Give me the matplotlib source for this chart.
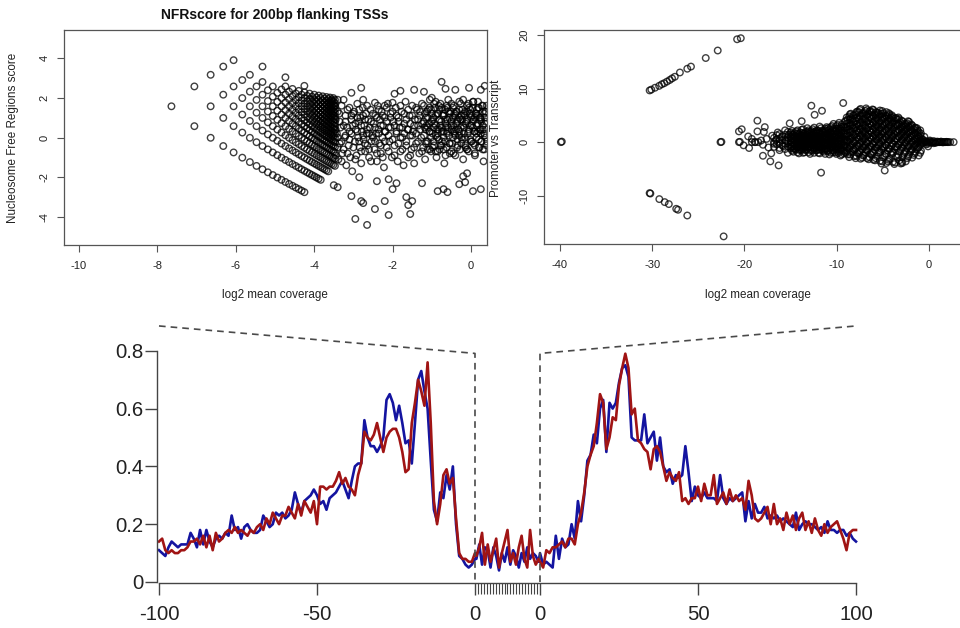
import numpy as np
import matplotlib
matplotlib.use("Agg")
import matplotlib.pyplot as plt

plt.rcParams['font.family'] = ['Liberation Sans', 'DejaVu Sans']
plt.rcParams['axes.unicode_minus'] = False

# ---------------- top left: NFR score vs log2 mean coverage ----------------
# low-coverage columns: total read count, and range of upstream counts seen
nfr_total = [2, 3, 4, 5, 6, 7, 8, 9, 10, 11, 12, 13, 14, 15, 16, 17, 18, 19, 20, 21,
             22, 23, 24, 25, 26, 27, 28, 29, 30, 31, 32, 33, 34, 35, 36]
nfr_a_lo = [1] * 20 + [2] * 7 + [3] * 4 + [4] * 4
nfr_a_hi = [1, 2, 3, 4, 5, 5, 6, 6, 8, 7, 8, 8, 9, 11, 10, 11, 11, 12, 12, 13,
            13, 14, 14, 15, 15, 16, 16, 17, 17, 18, 18, 19, 19, 20, 20]
nfr_xoff = -8.64   # log2 normalisation of coverage
nfr_yoff = 1.57    # log2 normalisation of score

# higher coverage cloud
nfr_x = [-3.48, -3.45, -3.42, -3.40, -3.38, -3.36, -3.33, -3.30, -3.28, -3.25, -3.22, -3.20, -3.18, -3.15, -3.12, -3.10, -3.08, -3.05, -3.03, -3.02,
         -2.98, -2.96, -2.94, -2.92, -2.90, -2.88, -2.86, -2.84, -2.82, -2.80, -2.78, -2.76, -2.74, -2.72, -2.70, -2.68, -2.66, -2.64, -2.62, -2.60, -2.58, -2.56, -2.54, -2.52,
         -2.48, -2.46, -2.44, -2.42, -2.40, -2.38, -2.36, -2.34, -2.32, -2.30, -2.28, -2.26, -2.24, -2.22, -2.20, -2.18, -2.15, -2.12, -2.10, -2.08, -2.05, -2.02,
         -1.98, -1.95, -1.92, -1.90, -1.87, -1.85, -1.82, -1.80, -1.77, -1.75, -1.72, -1.70, -1.67, -1.65, -1.62, -1.60, -1.57, -1.55, -1.52, -1.50,
         -1.48, -1.45, -1.43, -1.40, -1.38, -1.35, -1.32, -1.30, -1.27, -1.25, -1.22, -1.20, -1.17, -1.15, -1.12, -1.10, -1.07, -1.05, -1.02,
         -0.98, -0.96, -0.94, -0.92, -0.90, -0.88, -0.86, -0.84, -0.82, -0.80, -0.78, -0.76, -0.74, -0.72, -0.70, -0.68, -0.66, -0.64, -0.62, -0.60, -0.58, -0.56, -0.54, -0.52, -0.50,
         -0.48, -0.46, -0.44, -0.42, -0.40, -0.38, -0.36, -0.34, -0.32, -0.30, -0.28, -0.26, -0.24, -0.22, -0.20, -0.18, -0.16, -0.14, -0.12, -0.10, -0.08, -0.06, -0.04, -0.02,
         0.02, 0.04, 0.06, 0.08, 0.10, 0.12, 0.14, 0.16, 0.18, 0.20, 0.22, 0.24, 0.26, 0.28, 0.30, 0.32, 0.34, 0.36, 0.38, 0.40, 0.05, 0.15, 0.25, 0.35]
nfr_y = [1.6, 0.9, 0.2, -0.5, -1.1, 1.2, 0.5, -0.2, -0.8, 1.9, 0.0, 0.8, -1.4, 1.4, -0.4, 0.3, -1.0, 1.1, -1.7, 0.6,
         1.3, -0.2, 0.4, -0.9, 1.7, 0.0, 0.8, -0.5, 1.0, -1.3, 0.3, 1.5, -0.1, 0.6, -0.7, 1.2, 0.2, -0.4, 0.9, -1.0, 0.5, 1.4, -0.2, 0.1,
         0.7, -0.6, 1.1, 0.2, -1.2, 1.6, 0.4, -0.3, 0.9, -0.8, 1.3, 0.0, 0.6, -1.5, 1.0, 0.3, -0.5, 1.7, 0.5, -0.2, 1.2, -1.0,
         0.8, -0.4, 1.5, 0.2, -1.2, 1.0, 0.5, -0.7, 1.3, 0.0, -1.4, 0.7, 1.8, -0.2, 0.4, -1.0, 1.1, 0.1, -0.6, 1.6,
         0.3, -1.3, 0.9, -0.3, 1.4, 0.6, -0.8, 1.1, 0.0, 1.7, -0.5, 0.8, -1.1, 0.4, 1.3, -0.2, 0.7, 1.9, -0.7,
         0.2, 1.0, -0.4, 1.5, 0.6, -1.0, 0.0, 1.2, 0.4, -0.6, 1.7, 0.8, -0.2, 1.1, 0.3, -1.3, 1.4, 0.5, -0.5, 0.9, 1.9, 0.1, -0.8, 1.3, 0.6,
         -0.3, 1.0, 1.6, 0.2, -0.9, 0.7, 1.3, -0.1, 0.4, 1.8, -0.6, 0.9, 0.0, 1.4, -1.1, 0.5, 1.1, -0.4, 0.8, 1.6, 0.2, -0.7, 1.2, 0.6,
         -0.2, 1.5, 0.9, 0.3, -0.9, 1.2, 0.0, 0.7, 1.8, -0.5, 0.4, 1.0, -0.2, 1.6, 0.6, -1.2, 0.2, 1.3, 0.8, -0.4, 0.5, 1.4, 0.2, 1.0]

# second pass over the dense core: two points per coverage value
nfr2_x = [-3.45, -3.40, -3.35, -3.30, -3.25, -3.20, -3.15, -3.10, -3.05, -3.00, -2.95, -2.90, -2.85, -2.80, -2.75, -2.70,
          -2.65, -2.60, -2.55, -2.50, -2.45, -2.40, -2.35, -2.30, -2.25, -2.20, -2.15, -2.10, -2.05, -2.00, -1.95, -1.90,
          -1.85, -1.80, -1.75, -1.70, -1.65, -1.60, -1.55, -1.50, -1.45, -1.40, -1.35, -1.30, -1.25, -1.20, -1.15, -1.10,
          -1.05, -1.00, -0.95, -0.90, -0.85, -0.80, -0.75, -0.70, -0.65, -0.60, -0.55, -0.50, -0.45, -0.40, -0.35, -0.30,
          -0.25, -0.20, -0.15, -0.10, -0.05, 0.00, 0.05, 0.10, 0.15, 0.20, 0.25, 0.30, 0.35, 0.40]
nfr2_ya = [0.4, 1.3, -0.3, 1.6, 0.6, 1.1, -0.8, 1.5, 0.2, -0.5, 0.7, 0.3, -0.2, 0.6, 1.1, -0.3,
           0.4, -0.6, 0.8, 1.2, -0.2, 1.0, 0.2, -0.4, 1.1, 0.3, 0.8, -0.7, 0.5, -0.1, 0.6, 1.1,
           -0.3, 0.0, 0.5, 1.2, -0.4, 0.4, -0.9, 0.1, 0.6, 1.5, -0.2, 0.4, -0.7, 0.1, 1.0, 0.5,
           -0.6, 0.8, -0.2, 1.1, 0.2, 0.9, -0.4, 1.2, 0.7, 1.5, -0.3, 0.4, -0.8, 1.2, 0.8, 1.4,
           -0.3, 0.6, 0.0, 0.9, 0.4, -0.2, 0.8, 0.3, 1.1, -0.1, 0.9, 1.3, 0.1, 1.6]
nfr2_yb = [-0.9, 0.0, 0.8, -1.2, -0.6, 0.1, 0.5, -0.1, 0.9, 1.2, -1.1, 1.0, 1.4, -0.7, 0.1, 0.9,
           1.6, 0.2, -1.2, 0.0, 0.5, -0.8, 1.4, 0.6, -1.0, -0.2, 1.5, 0.1, 1.0, 1.3, -0.9, 0.3,
           0.8, 1.6, -0.6, 0.2, 0.9, 1.4, 0.7, 1.1, -0.5, 0.2, 0.9, 1.3, 0.7, 1.6, -0.3, 1.4,
           0.3, 1.2, 0.5, 1.8, -0.7, 1.4, 0.5, 0.0, -0.9, 0.3, 1.0, 1.7, 0.6, 0.1, -0.5, 0.3,
           1.1, 1.9, 1.3, -0.6, 1.5, 1.0, 1.8, -0.4, 0.6, 1.5, 0.4, -0.6, 0.7, -0.2]

# third pass: the highest coverage genes (near 0)
nfr3_x = [-1.18, -1.14, -1.10, -1.06, -1.02, -0.98, -0.94, -0.90, -0.86, -0.82, -0.78, -0.74, -0.70, -0.66, -0.62, -0.58,
          -0.54, -0.50, -0.46, -0.42, -0.38, -0.34, -0.30, -0.26, -0.22, -0.18, -0.14, -0.10, -0.06, -0.02, 0.02, 0.06,
          0.10, 0.14, 0.18, 0.22, 0.26, 0.30, 0.34, 0.38]
nfr3_ya = [0.5, -0.2, 1.0, 0.3, 1.4, -0.5, 0.7, 0.1, 1.2, -0.1, 0.6, 1.5, -0.6, 0.9, 0.2, 1.3,
           -0.3, 0.8, 0.0, 1.1, 0.4, -0.4, 1.0, 0.5, -0.1, 1.2, 0.7, -0.6, 0.3, 1.4, 0.6, -0.3,
           1.0, 0.2, 1.5, -0.5, 0.8, 0.4, 1.2, 0.0]
nfr3_yb = [1.2, 0.6, -0.6, 1.5, 0.0, 0.9, 1.7, -0.7, 0.4, 1.6, -0.4, 0.3, 1.1, -0.2, 1.6, 0.5,
           1.2, -0.7, 1.5, 0.3, 1.3, 0.9, 0.1, 1.7, 0.9, 0.2, -0.5, 1.3, 1.7, -0.1, 1.1, 1.8,
           -0.8, 1.2, 0.3, 1.0, -0.2, 1.6, -0.6, 1.3]

nfr_out_x = [-3.05, -2.95, -2.8, -2.75, -2.65, -2.45, -2.2, -2.1, -2.0, -1.65, -1.6, -1.55, -1.5, -3.4, -3.5,
             -2.85, -2.4, -2.1, -1.9, -1.25, -0.85, -0.7, -0.6, -0.3, -0.2, -0.15, 0.05, 0.25, -0.1,
             -3.05, -2.8, -2.75, -2.45, -2.2, -1.95, -1.8, -1.45, -1.2, -0.75, -0.65, -0.4, -0.05, 0.25, 0.35,
             -3.4, -3.55, -2.0, -1.0, -4.25]
nfr_out_y = [-2.95, -4.1, -3.2, -3.3, -4.4, -3.6, -3.2, -3.9, -2.6, -3.0, -3.4, -3.85, -3.2, -2.5, -2.4,
             -2.0, -2.2, -2.1, -2.3, -2.3, -2.7, -2.6, -2.75, -2.35, -1.95, -2.25, -2.7, -2.6, -1.8,
             2.25, 2.5, 1.9, 1.75, 1.6, 2.2, 2.35, 2.4, 2.3, 2.8, 2.45, 2.4, 2.5, 2.4, 2.6,
             1.9, 1.85, 1.75, 2.0, 2.6]

# ---------------- top right: promoter vs transcript ----------------
pvt_up_x = [-30.28, -30.1, -29.7, -29.25, -28.96, -28.7, -28.4, -28.1, -27.85, -27.55, -27.0, -26.2, -25.8, -24.2, -22.9, -20.8, -20.4]
pvt_up_y = [9.65, 9.8, 10.15, 10.5, 10.8, 11.0, 11.3, 11.6, 11.9, 12.2, 13.0, 13.7, 14.1, 15.7, 17.1, 19.2, 19.4]
pvt_dn_x = [-30.28, -30.2, -29.23, -28.65, -28.2, -27.4, -27.2, -26.2, -22.26]
pvt_dn_y = [-9.52, -9.6, -10.64, -11.2, -11.57, -12.45, -12.63, -13.7, -17.6]
pvt_mid_x = [-39.9, -39.8, -22.6, -22.5, -20.6, -20.5, -20.6, -20.3, -19.6, -20.1, -19.5, -18.6, -17.8, -18.6, -18.0,
             -17.2, -16.3, -11.7, -12.75, -9.3, -11.6, -12.4, -13.8, -15.1, -4.8, -2.9, 2.67, -19.2, -18.8]
pvt_mid_y = [0, 0.1, 0, 0.05, 0, 0.05, 2.0, 2.4, 1.06, -0.6, -1.1, 4.0, 2.8, 2.0, -2.55,
             -3.6, -4.35, -5.7, 6.8, 7.3, 5.85, 5.1, 3.9, 3.5, -5.3, -3.9, 0, 0, 0]
pvt_edge_x = [-18.9, -18.5, -18.2, -18.0, -17.6, -17.4, -17.0, -16.8, -16.6, -16.4, -16.2, -16.0, -15.8, -15.6, -15.5, -15.3, -15.2, -19.2, -17.9, -17.1]
pvt_edge_y = [0, 0, 0.3, -0.5, 0.6, -1.0, 1.2, -0.3, 0.4, 1.8, -1.5, 0.9, -0.8, 2.2, 0.2, -2.0, 1.4, 0.6, 1.9, -2.1]
pvt_col_x = [-15.0, -14.7, -14.4, -14.1, -13.8, -13.5, -13.2, -12.9, -12.6, -12.3, -12.0, -11.7, -11.4, -11.1, -10.8,
             -10.5, -10.2, -9.9, -9.6, -9.3, -9.0, -8.65, -8.3, -7.95, -7.6, -7.25, -6.9, -6.55, -6.2, -5.85,
             -5.5, -5.15, -4.8, -4.45, -4.1, -3.75, -3.4, -3.05, -2.7, -2.35, -2.0, -1.65, -1.3, -0.95]
pvt_col_y = [[-1.2, -0.4, 0.3, 1.0, 1.8], [-1.8, -0.8, 0, 0.7, 1.4], [-1.4, -0.5, 0.2, 1.1, 2.0], [-2.1, -0.9, -0.1, 0.6, 1.5],
             [-1.5, -0.6, 0.3, 1.2, 2.3], [-1.9, -1.0, 0.0, 0.8, 1.6], [-1.3, -0.3, 0.5, 1.3, 2.6], [-2.2, -0.8, 0.1, 0.9, 1.9],
             [-1.6, -0.5, 0.4, 1.4, 2.4], [-1.1, -0.2, 0.7, 1.6], [-2.0, -0.9, 0.2, 1.1, 2.1], [-1.4, -0.4, 0.5, 1.5, 2.6],
             [-1.8, -0.7, 0.0, 0.9, 1.8], [-1.2, -0.2, 0.6, 1.6, 2.8], [-2.3, -1.0, 0.2, 1.2, 2.3], [-1.5, -0.5, 0.4, 1.4, 3.0],
             [-1.9, -0.8, 0.1, 1.0, 2.1], [-1.3, -0.3, 0.7, 1.8, 3.2], [-2.5, -1.1, 0.3, 1.3, 2.5], [-1.6, -0.6, 0.5, 1.6, 2.9],
             [-2.0, -0.8, 0.4, 1.6, 2.8, 4.0], [-2.8, -1.3, 0.0, 1.2, 2.4, 3.6, 4.8], [-1.7, -0.5, 0.8, 2.0, 3.2, 4.4],
             [-3.0, -1.2, 0.2, 1.5, 2.7, 3.9, 5.2], [-2.2, -0.8, 0.5, 1.8, 3.0, 4.3, 5.6], [-2.9, -1.4, 0.0, 1.2, 2.5, 3.7, 5.0],
             [-1.9, -0.6, 0.7, 2.0, 3.2, 4.5, 5.8], [-3.2, -1.2, 0.2, 1.5, 2.8, 4.0, 5.3], [-2.4, -0.9, 0.5, 1.8, 3.1, 4.4, 5.6],
             [-3.4, -1.5, 0.0, 1.3, 2.6, 3.9, 5.1], [-2.0, -0.6, 0.8, 2.1, 3.4, 4.7, 5.5], [-4.0, -1.3, 0.2, 1.5, 2.8, 4.1, 5.3],
             [-2.6, -0.9, 0.5, 1.9, 3.2, 4.5], [-3.6, -1.6, 0.0, 1.3, 2.6, 3.9, 5.0], [-2.2, -0.7, 0.7, 2.0, 3.3, 4.6],
             [-4.1, -1.3, 0.2, 1.5, 2.8, 4.0], [-2.8, -0.9, 0.6, 1.9, 3.1, 4.2], [-4.0, -1.5, 0.0, 1.3, 2.5, 3.6],
             [-2.2, -0.6, 0.8, 2.0, 3.1], [-3.0, -1.1, 0.3, 1.5, 2.6, 3.5], [-1.7, -0.4, 0.9, 2.0, 3.0],
             [-2.4, -0.9, 0.3, 1.4, 2.4], [-1.3, -0.2, 0.8, 1.8, 2.6], [-2.0, -0.6, 0.4, 1.3, 2.2]]
# interleaved columns of the dense blob
pvt_col2_x = [-16.8, -16.5, -16.2, -15.9, -15.6, -15.3, -14.85, -14.55, -14.25, -13.95, -13.65, -13.35, -13.05,
              -12.75, -12.45, -12.15, -11.85, -11.55, -11.25, -10.95, -10.65, -10.35, -10.05, -9.75, -9.45, -9.15,
              -8.82, -8.47, -8.12, -7.77, -7.42, -7.07, -6.72, -6.37, -6.02, -5.67, -5.32, -4.97, -4.62, -4.27,
              -3.92, -3.57, -3.22, -2.87, -2.52, -2.17, -1.82, -1.47, -1.12]
pvt_col2_y = [[-0.9, 0.0, 0.8], [-0.4, 0.5, 1.3], [-1.1, -0.2, 0.6, 1.5], [-0.6, 0.3, 1.1], [-1.3, -0.3, 0.5, 1.4],
              [-0.8, 0.1, 0.9, 1.9], [-1.6, -0.8, -0.1, 0.6, 1.3, 2.1], [-1.2, -0.4, 0.3, 1.0, 1.7],
              [-1.9, -1.0, -0.3, 0.5, 1.3, 2.2], [-1.3, -0.5, 0.2, 0.9, 1.8], [-2.0, -1.2, -0.3, 0.6, 1.5, 2.4],
              [-1.5, -0.6, 0.2, 1.0, 1.9], [-1.9, -1.0, -0.2, 0.7, 1.6, 2.2], [-1.4, -0.4, 0.5, 1.3, 2.1],
              [-2.0, -1.1, -0.1, 0.9, 1.9, 2.7], [-1.5, -0.6, 0.3, 1.2, 2.2], [-2.1, -1.0, 0.0, 0.9, 1.8, 2.9],
              [-1.6, -0.7, 0.2, 1.1, 2.2], [-2.2, -1.2, -0.3, 0.8, 1.9, 2.5], [-1.7, -0.6, 0.4, 1.5, 2.6],
              [-2.0, -1.1, -0.1, 0.9, 1.9, 2.8], [-1.6, -0.6, 0.5, 1.6, 2.5, 3.4], [-2.2, -1.2, -0.2, 0.9, 2.0, 3.0],
              [-1.7, -0.6, 0.4, 1.5, 2.6, 3.6], [-2.3, -1.3, -0.2, 0.9, 2.1, 3.3], [-1.8, -0.7, 0.4, 1.5, 2.7, 3.8],
              [-2.3, -1.0, 0.3, 1.6, 2.9, 4.2], [-1.9, -0.6, 0.7, 2.0, 3.3, 4.5, 5.3], [-2.6, -1.3, 0.0, 1.3, 2.6, 3.9, 5.0],
              [-2.0, -0.5, 0.9, 2.2, 3.4, 4.6, 5.7], [-3.1, -1.6, -0.2, 1.1, 2.4, 3.6, 4.9, 6.2],
              [-2.4, -0.9, 0.5, 1.8, 3.1, 4.3, 5.5], [-3.0, -1.5, -0.1, 1.2, 2.5, 3.8, 5.0, 6.0],
              [-2.2, -0.7, 0.8, 2.1, 3.4, 4.7, 5.8], [-3.3, -1.8, -0.3, 1.0, 2.3, 3.6, 4.9, 6.0],
              [-2.6, -1.0, 0.4, 1.7, 3.0, 4.3, 5.5], [-3.5, -1.9, -0.5, 0.9, 2.3, 3.6, 4.9, 5.9],
              [-2.8, -1.1, 0.4, 1.7, 3.0, 4.3, 5.4], [-3.9, -2.2, -0.6, 0.8, 2.2, 3.5, 4.8, 5.6],
              [-3.1, -1.3, 0.3, 1.7, 3.0, 4.3, 5.2], [-3.7, -2.0, -0.4, 1.0, 2.3, 3.6, 4.7],
              [-2.6, -0.8, 0.7, 2.1, 3.4, 4.5], [-3.4, -1.8, -0.3, 1.0, 2.2, 3.3, 4.3], [-2.8, -1.0, 0.4, 1.7, 2.9, 3.9],
              [-3.6, -1.6, -0.1, 1.2, 2.4, 3.4], [-2.3, -0.8, 0.6, 1.8, 2.8, 3.8], [-2.9, -1.4, 0.0, 1.1, 2.1, 3.1],
              [-1.8, -0.5, 0.6, 1.7, 2.7], [-2.5, -1.0, 0.1, 1.0, 1.9]]
pvt_col3_x = [-14.92, -14.62, -14.32, -14.02, -13.72, -13.42, -13.12, -12.82, -12.52, -12.22, -11.92, -11.62, -11.32, -11.02,
              -10.72, -10.42, -10.12, -9.82, -9.52, -9.22, -8.92, -8.57, -8.22, -7.87, -7.52, -7.17, -6.82, -6.47,
              -6.12, -5.77, -5.42, -5.07, -4.72, -4.37, -4.02, -3.67, -3.32, -2.97, -2.62, -2.27, -1.92, -1.57, -1.22, -0.87]
pvt_col3_y = [[-0.9, -0.1, 0.7, 1.5], [-1.3, -0.4, 0.4, 1.1], [-0.9, -0.1, 0.8, 1.6], [-1.5, -0.5, 0.3, 1.1], [-1.0, -0.1, 0.8, 1.7],
              [-1.4, -0.5, 0.4, 1.2], [-0.9, 0.0, 0.9, 1.9], [-1.6, -0.4, 0.5, 1.4], [-1.1, -0.1, 0.8, 1.8], [-1.5, -0.6, 0.3, 1.2, 2.0],
              [-1.4, -0.4, 0.6, 1.6], [-1.0, 0.0, 0.9, 2.0], [-1.4, -0.3, 0.5, 1.3, 2.2], [-1.6, -0.6, 0.3, 1.1, 2.1], [-1.2, -0.3, 0.7, 1.7],
              [-1.9, -0.9, 0.0, 0.9, 2.2], [-1.4, -0.4, 0.6, 1.5, 2.5], [-2.0, -0.9, 0.2, 1.2, 2.2], [-1.5, -0.4, 0.7, 1.8, 2.9],
              [-2.1, -1.0, 0.1, 1.1, 2.2],
              [-1.6, -0.2, 1.0, 2.2, 3.4, 4.6], [-2.3, -0.9, 0.5, 1.8, 3.0, 4.2, 5.2], [-1.3, 0.1, 1.4, 2.6, 3.8, 5.0],
              [-2.6, -0.7, 0.8, 2.1, 3.3, 4.5, 5.6], [-1.8, -0.3, 1.1, 2.4, 3.6, 4.9, 6.0], [-2.5, -0.9, 0.6, 1.9, 3.1, 4.3, 5.4],
              [-1.4, 0.0, 1.3, 2.6, 3.8, 5.1, 6.3], [-2.8, -0.8, 0.8, 2.1, 3.4, 4.6, 5.7], [-2.0, -0.4, 1.1, 2.4, 3.7, 5.0, 6.1],
              [-3.0, -1.0, 0.6, 1.9, 3.2, 4.5, 5.6], [-1.6, -0.1, 1.3, 2.7, 4.0, 5.2], [-3.6, -0.8, 0.8, 2.1, 3.4, 4.7, 5.8],
              [-2.2, -0.5, 1.0, 2.4, 3.7, 5.0], [-3.3, -1.2, 0.5, 1.9, 3.2, 4.5, 5.4], [-1.8, -0.2, 1.2, 2.6, 3.9, 5.0],
              [-3.8, -0.9, 0.6, 2.0, 3.3, 4.4], [-2.4, -0.5, 1.0, 2.3, 3.5, 4.6], [-3.7, -1.1, 0.4, 1.7, 2.9, 4.0],
              [-1.9, -0.2, 1.1, 2.3, 3.4], [-2.7, -0.7, 0.7, 1.9, 3.0, 3.9], [-1.4, 0.0, 1.2, 2.3, 3.3],
              [-2.1, -0.6, 0.6, 1.7, 2.7], [-1.0, 0.2, 1.2, 2.2], [-1.6, -0.3, 0.7, 1.6]]
pvt_tail_x = [-0.8, -0.6, -0.4, -0.2, 0.0, 0.2, 0.4, 0.6, 0.8, 1.0, 1.2, 1.4, 1.6, 1.8, 2.0, -0.7, -0.3, 0.1, 0.5, -0.5, -0.1,
              -0.9, -0.7, -0.5, -0.3, -0.1, 0.1, 0.3, 0.5, 0.7, 0.9, 1.1, 1.3, 1.5, 1.7, 1.9, 2.1, 2.3]
pvt_tail_y = [0, 0, 0, 0, 0, 0, 0, 0, 0, 0, 0, 0, 0, 0, 0, 0.5, -0.4, 0.3, -0.2, 1.0, -0.8,
              0.2, -0.2, 0.3, 0.1, -0.3, 0.15, -0.1, 0.2, -0.15, 0.1, 0, 0.1, -0.05, 0, 0.05, 0, 0]

# ---------------- bottom: profile around TSS / gene body / TES ----------------
up_pos = np.arange(-100, 1)
up_blue = [0.11, 0.10, 0.09, 0.12, 0.14, 0.13, 0.12, 0.13, 0.13, 0.13,
           0.17, 0.15, 0.12, 0.18, 0.13, 0.18, 0.14, 0.12, 0.15, 0.16,
           0.15, 0.17, 0.16, 0.23, 0.18, 0.19, 0.15, 0.19, 0.20, 0.18,
           0.17, 0.17, 0.18, 0.23, 0.21, 0.19, 0.20, 0.24, 0.23, 0.24,
           0.22, 0.23, 0.25, 0.31, 0.27, 0.24, 0.28, 0.29, 0.30, 0.32,
           0.30, 0.27, 0.28, 0.25, 0.29, 0.30, 0.31, 0.33, 0.35, 0.32,
           0.29, 0.35, 0.40, 0.41, 0.41, 0.56, 0.50, 0.47, 0.47, 0.45,
           0.47, 0.50, 0.63, 0.65, 0.62, 0.56, 0.61, 0.55, 0.48, 0.49,
           0.41, 0.55, 0.70, 0.73, 0.66, 0.60, 0.42, 0.25, 0.21, 0.31,
           0.29, 0.37, 0.32, 0.40, 0.20, 0.09, 0.08, 0.06, 0.05, 0.06,
           0.08]
up_red = [0.14, 0.15, 0.11, 0.10, 0.11, 0.10, 0.10, 0.11, 0.11, 0.12,
          0.14, 0.14, 0.15, 0.13, 0.16, 0.12, 0.16, 0.11, 0.17, 0.14,
          0.15, 0.17, 0.18, 0.17, 0.19, 0.17, 0.18, 0.17, 0.16, 0.18,
          0.17, 0.19, 0.20, 0.18, 0.22, 0.20, 0.24, 0.22, 0.20, 0.23,
          0.23, 0.26, 0.24, 0.22, 0.27, 0.23, 0.28, 0.26, 0.24, 0.28,
          0.20, 0.33, 0.33, 0.32, 0.33, 0.33, 0.35, 0.38, 0.34, 0.36,
          0.33, 0.32, 0.30, 0.37, 0.41, 0.52, 0.50, 0.49, 0.51, 0.55,
          0.50, 0.45, 0.50, 0.52, 0.53, 0.53, 0.50, 0.45, 0.38, 0.39,
          0.55, 0.62, 0.70, 0.66, 0.61, 0.76, 0.55, 0.28, 0.20, 0.27,
          0.37, 0.39, 0.34, 0.36, 0.22, 0.10, 0.08, 0.08, 0.07, 0.07,
          0.10]
body_blue = [0.08, 0.13, 0.06, 0.12, 0.11, 0.05, 0.12, 0.09, 0.04, 0.10, 0.07, 0.12,
             0.06, 0.11, 0.09, 0.05, 0.10, 0.07, 0.12, 0.08, 0.10, 0.09, 0.07]
body_red = [0.09, 0.12, 0.17, 0.06, 0.13, 0.07, 0.11, 0.15, 0.05, 0.10, 0.14, 0.18,
            0.07, 0.10, 0.06, 0.12, 0.16, 0.08, 0.05, 0.18, 0.09, 0.06, 0.08]
down_pos = np.arange(0, 101)
down_blue = [0.10, 0.06, 0.07, 0.06, 0.05, 0.16, 0.08, 0.15, 0.12, 0.13,
             0.20, 0.15, 0.28, 0.21, 0.30, 0.42, 0.44, 0.51, 0.48, 0.60,
             0.63, 0.45, 0.62, 0.60, 0.62, 0.69, 0.74, 0.75, 0.71, 0.50,
             0.49, 0.49, 0.49, 0.58, 0.48, 0.50, 0.52, 0.42, 0.50, 0.40,
             0.38, 0.39, 0.34, 0.37, 0.36, 0.37, 0.47, 0.38, 0.28, 0.33,
             0.30, 0.29, 0.31, 0.29, 0.29, 0.29, 0.28, 0.37, 0.29, 0.27,
             0.29, 0.28, 0.29, 0.30, 0.31, 0.21, 0.28, 0.22, 0.27, 0.24,
             0.24, 0.26, 0.22, 0.23, 0.22, 0.23, 0.21, 0.22, 0.21, 0.20,
             0.19, 0.24, 0.18, 0.20, 0.21, 0.20, 0.20, 0.19, 0.18, 0.19,
             0.17, 0.21, 0.18, 0.18, 0.17, 0.18, 0.18, 0.16, 0.17, 0.15,
             0.14]
down_red = [0.07, 0.05, 0.11, 0.10, 0.12, 0.12, 0.13, 0.14, 0.12, 0.15,
            0.15, 0.13, 0.20, 0.24, 0.31, 0.40, 0.44, 0.47, 0.55, 0.65,
            0.62, 0.46, 0.50, 0.57, 0.56, 0.68, 0.74, 0.79, 0.74, 0.58,
            0.60, 0.49, 0.48, 0.46, 0.45, 0.39, 0.46, 0.47, 0.45, 0.40,
            0.35, 0.38, 0.36, 0.35, 0.38, 0.28, 0.29, 0.27, 0.29, 0.29,
            0.33, 0.28, 0.34, 0.30, 0.30, 0.37, 0.27, 0.29, 0.31, 0.27,
            0.32, 0.28, 0.30, 0.28, 0.29, 0.25, 0.35, 0.30, 0.22, 0.21,
            0.22, 0.24, 0.26, 0.20, 0.27, 0.20, 0.22, 0.18, 0.24, 0.20,
            0.23, 0.18, 0.22, 0.24, 0.18, 0.21, 0.17, 0.22, 0.18, 0.16,
            0.20, 0.17, 0.19, 0.20, 0.21, 0.18, 0.15, 0.11, 0.17, 0.18,
            0.18]

W, H = 960, 628
fig = plt.figure(figsize=(W / 100, H / 100), dpi=100)


def px_axes(l, t, r, b):
    return fig.add_axes([l / W, 1 - b / H, (r - l) / W, (b - t) / H])


def flatten(cols_x, cols_y):
    xs = [x for x, ys in zip(cols_x, cols_y) for _ in ys]
    ys = [y for col in cols_y for y in col]
    return xs, ys


txt = '#222222'
box = '#555555'
sc_kw = dict(s=22, facecolors='none', edgecolors=(0, 0, 0, 0.75), linewidths=1.0)


def r_style(ax):
    for sp in ax.spines.values():
        sp.set_color(box)
        sp.set_linewidth(0.9)
    ax.tick_params(length=5, width=0.8, color=box, labelsize=8, labelcolor=txt)
    ax.tick_params(axis='x', pad=6.5)
    ax.tick_params(axis='y', pad=5.5, labelrotation=90)
    for lab in ax.get_yticklabels():
        lab.set_va('center')


# top left
ax1 = px_axes(64, 30, 487, 245)
low_x, low_y = [], []
for m, lo, hi in zip(nfr_total, nfr_a_lo, nfr_a_hi):
    for a in range(lo, hi + 1):
        low_x.append(np.log2(m) + nfr_xoff)
        low_y.append(np.log2(a / (m - a)) + nfr_yoff)
ax1.scatter(low_x, low_y, **sc_kw)
ax1.scatter(nfr_x, nfr_y, **sc_kw)
ax1.scatter(nfr2_x, nfr2_ya, **sc_kw)
ax1.scatter(nfr2_x, nfr2_yb, **sc_kw)
ax1.scatter(nfr3_x, nfr3_ya, **sc_kw)
ax1.scatter(nfr3_x, nfr3_yb, **sc_kw)
ax1.scatter(nfr_out_x, nfr_out_y, **sc_kw)
ax1.set_xlim(-10.38, 0.408)
ax1.set_ylim(-5.41, 5.41)
ax1.set_xticks([-10, -8, -6, -4, -2, 0])
ax1.set_yticks([-4, -2, 0, 2, 4])
r_style(ax1)
fig.text(275 / W, 1 - 15 / H, 'NFRscore for 200bp flanking TSSs', ha='center', va='center',
         fontsize=10, fontweight='bold', color='#111111')
fig.text(275 / W, 1 - 295 / H, 'log2 mean coverage', ha='center', va='center', fontsize=8.4, color=txt)
fig.text(13 / W, 1 - 138 / H, 'Nucleosome Free Regions score', ha='center', va='center',
         rotation=90, fontsize=8.4, color=txt)

# top right
ax2 = px_axes(544, 30, 972, 244)
ax2.scatter(pvt_up_x, pvt_up_y, **sc_kw)
ax2.scatter(pvt_dn_x, pvt_dn_y, **sc_kw)
ax2.scatter(pvt_mid_x, pvt_mid_y, **sc_kw)
ax2.scatter(pvt_edge_x, pvt_edge_y, **sc_kw)
ax2.scatter(*flatten(pvt_col_x, pvt_col_y), **sc_kw)
ax2.scatter(*flatten(pvt_col2_x, pvt_col2_y), **sc_kw)
ax2.scatter(*flatten(pvt_col3_x, pvt_col3_y), **sc_kw)
ax2.scatter(pvt_tail_x, pvt_tail_y, **sc_kw)
ax2.set_xlim(-41.73, 4.66)
ax2.set_ylim(-19.02, 20.93)
ax2.set_xticks([-40, -30, -20, -10, 0])
ax2.set_yticks([-10, 0, 10, 20])
r_style(ax2)
fig.text(758 / W, 1 - 295 / H, 'log2 mean coverage', ha='center', va='center', fontsize=8.4, color=txt)
fig.text(496 / W, 1 - 138 / H, 'Promoter vs Transcript', ha='center', va='center',
         rotation=90, fontsize=8.4, color=txt)

# bottom profile
gap = 65 / 3.16
ax3 = px_axes(157, 320, 870, 583)
n_body = len(body_blue)
body_u = (np.arange(n_body) + 0.5) * gap / n_body
u = np.concatenate([up_pos, body_u, gap + down_pos])
blue = np.concatenate([up_blue, body_blue, down_blue])
red = np.concatenate([up_red, body_red, down_red])
ax3.plot(u, blue, color='#1414a0', lw=1.9, solid_joinstyle='round')
ax3.plot(u, red, color='#a01414', lw=1.9, solid_joinstyle='round')

dash = dict(color='#4a4a4a', lw=1.2, ls=(0, (4, 3)), clip_on=False)
ax3.plot([-100, 0, 0], [0.886, 0.791, 0.0], **dash)
ax3.plot([gap, gap, gap + 100], [0.0, 0.791, 0.886], **dash)

ax3.set_xlim(-100.63, 125.0)
ax3.set_ylim(-0.0035, 0.9066)
for s in ['top', 'right']:
    ax3.spines[s].set_visible(False)
for s in ['left', 'bottom']:
    ax3.spines[s].set_color('#444444')
    ax3.spines[s].set_linewidth(1.0)
ax3.spines['left'].set_bounds(0, 0.8)
ax3.spines['bottom'].set_bounds(-100, gap + 100)
ax3.set_yticks([0, 0.2, 0.4, 0.6, 0.8], ['0', '0.2', '0.4', '0.6', '0.8'])
ax3.set_xticks([-100, -50, 0, gap, gap + 50, gap + 100], ['-100', '-50', '0', '0', '50', '100'])
ax3.set_xticks(np.linspace(0, gap, n_body), minor=True)
ax3.tick_params(axis='both', which='major', length=8.5, width=1.0, color='#444444',
                labelsize=14.7, labelcolor=txt)
ax3.tick_params(axis='x', which='minor', length=8, width=0.8, color='#444444')
ax3.tick_params(axis='x', which='major', pad=7.5)
ax3.tick_params(axis='y', which='major', pad=1.5)

fig.savefig('out.png', dpi=100)
